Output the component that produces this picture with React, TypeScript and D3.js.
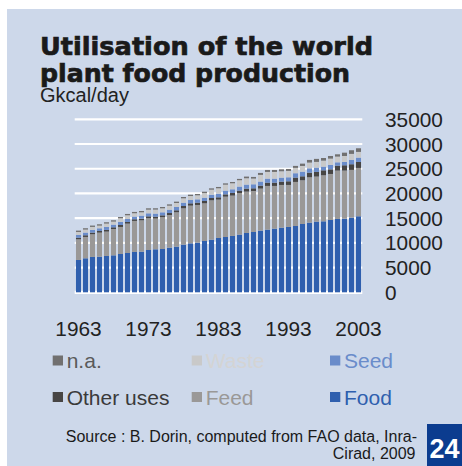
import { scaleBand, scaleLinear, stack } from "d3";

const years = Array.from({ length: 41 }, (_, i) => 1963 + i);

const food = [
  6540, 6880, 7150, 7210, 7350, 7480, 7750, 7950, 8160, 8220,
  8560, 8700, 8760, 9030, 9240, 9640, 9910, 10050, 10380, 10650,
  10990, 11190, 11400, 11670, 12000, 12200, 12480, 12680, 12880, 13080,
  13220, 13420, 13820, 14090, 14300, 14360, 14630, 14840, 14900, 15110,
  15380,
];
const feed = [
  4180, 4320, 4590, 4860, 4930, 5330, 5470, 5940, 6280, 6340,
  6410, 6210, 6410, 6610, 6950, 7350, 7620, 7620, 7620, 7960,
  7760, 8160, 8160, 8370, 8370, 8300, 8500, 8840, 8640, 8640,
  8500, 8910, 8840, 9180, 9110, 9310, 9310, 9780, 9720, 9650,
  9780,
];
const otherUses = [
  340, 340, 340, 340, 340, 340, 400, 340, 340, 340,
  400, 400, 400, 400, 400, 470, 470, 470, 470, 470,
  470, 470, 540, 540, 610, 540, 610, 670, 670, 670,
  740, 880, 810, 940, 940, 1010, 940, 1010, 1080, 1150,
  1210,
];
const seed = [
  540, 540, 540, 540, 610, 540, 610, 610, 540, 610,
  610, 610, 610, 670, 670, 670, 670, 670, 670, 670,
  740, 740, 740, 810, 810, 810, 810, 810, 810, 810,
  810, 880, 940, 880, 880, 740, 880, 670, 670, 880,
  880,
];
const waste = [
  610, 610, 610, 540, 670, 610, 740, 740, 670, 670,
  740, 810, 810, 810, 810, 880, 810, 810, 940, 1010,
  1080, 1210, 1210, 1280, 1280, 1150, 1350, 1350, 1350, 1280,
  1280, 1080, 1150, 1150, 1150, 1210, 1280, 1150, 1210, 1210,
  1150,
];
const na = [
  270, 270, 270, 270, 270, 270, 270, 270, 270, 270,
  270, 270, 270, 270, 270, 270, 270, 270, 270, 270,
  270, 270, 270, 270, 340, 340, 400, 400, 400, 400,
  400, 400, 470, 540, 610, 540, 540, 470, 670, 740,
  740,
];

const yTicks = [0, 5000, 10000, 15000, 20000, 25000, 30000, 35000];
const xTickYears = [1963, 1973, 1983, 1993, 2003];

const series = [
  { key: "food", label: "Food", values: food, color: "#2f5fae", text: "#2f5fae" },
  { key: "feed", label: "Feed", values: feed, color: "#9a9897", text: "#9a9897" },
  { key: "other", label: "Other uses", values: otherUses, color: "#474544", text: "#3a3a3a" },
  { key: "seed", label: "Seed", values: seed, color: "#6a8cca", text: "#6a8cca" },
  { key: "waste", label: "Waste", values: waste, color: "#c9c9c9", text: "#d4d4d4" },
  { key: "na", label: "n.a.", values: na, color: "#717070", text: "#5a5a5a" },
];

// legend grid: [series key, column, row]
const legendLayout: [string, number, number][] = [
  ["na", 0, 0], ["waste", 1, 0], ["seed", 2, 0],
  ["other", 0, 1], ["feed", 1, 1], ["food", 2, 1],
];

const W = 462;
const H = 466;
const BG = "#cdd8ea";
const FONT = "'Liberation Sans', Arial, sans-serif";

export default function App() {
  const rows = years.map((yr, i) => {
    const r: Record<string, number> = { year: yr };
    series.forEach((s) => (r[s.key] = s.values[i]));
    return r;
  });
  const stacked = stack<Record<string, number>>().keys(series.map((s) => s.key))(rows);

  const x = scaleBand<number>()
    .domain(years)
    .range([75, 362])
    .paddingInner(0.28)
    .paddingOuter(0.14);
  const y = scaleLinear().domain([0, 35000]).range([292.3, 119.3]);

  const legendCols = [52.7, 191.7, 330];
  const legendRows = [360.5, 397];

  return (
    <svg
      width={W}
      height={H}
      style={{ position: "absolute", left: 0, top: 0, display: "block" }}
      fontFamily={FONT}
    >
      <rect x={0} y={0} width={W} height={H} fill="#fff" />
      <rect x={7} y={9} width={W - 7} height={H - 9} fill={BG} />

      {/* Title */}
      <g fontFamily="'DejaVu Sans', sans-serif" fontWeight={700} fill="#1a1a1a" stroke="#1a1a1a" strokeWidth={0.7}>
        <text x={40} y={55} fontSize={25} textLength={333} lengthAdjust="spacingAndGlyphs">
          Utilisation of the world
        </text>
        <text x={40} y={81.5} fontSize={25} textLength={310} lengthAdjust="spacingAndGlyphs">
          plant food production
        </text>
      </g>
      <text x={40} y={101.5} fontSize={20} fill="#222">Gkcal/day</text>

      {/* Gridlines */}
      {yTicks.map((t) => (
        <line
          key={t}
          x1={74.7}
          x2={362.3}
          y1={y(t)}
          y2={y(t)}
          stroke="#fff"
          strokeWidth={t === 0 ? 3.2 : 2.2}
        />
      ))}

      {/* Bars */}
      {stacked.map((layer, li) => (
        <g key={layer.key} fill={series[li].color}>
          {layer.map((d, i) => (
            <rect
              key={i}
              x={x(years[i])}
              y={y(d[1])}
              width={x.bandwidth()}
              height={y(d[0]) - y(d[1])}
            />
          ))}
        </g>
      ))}

      {/* Y axis labels */}
      {yTicks.map((t) => (
        <text key={t} x={385} y={y(t)} dy="0.36em" fontSize={20.8} fill="#222">
          {t}
        </text>
      ))}

      {/* X axis labels */}
      {xTickYears.map((yr) => (
        <text key={yr} x={(x(yr) ?? 0) + x.bandwidth() / 2} y={336} textAnchor="middle" fontSize={20.8} fill="#222">
          {yr}
        </text>
      ))}

      {/* Legend */}
      {legendLayout.map(([k, c, r]) => {
        const s = series.find((d) => d.key === k)!;
        return (
          <g key={k}>
            <rect x={legendCols[c]} y={legendRows[r] - 5} width={10.3} height={10} fill={s.color} />
            <text x={legendCols[c] + 14} y={legendRows[r]} dy="0.36em" fontSize={21} fill={s.text}>
              {s.label}
            </text>
          </g>
        );
      })}

      {/* Source */}
      <g fontSize={16} fill="#1a1a1a" textAnchor="end">
        <text x={417} y={441.5}>Source : B. Dorin, computed from FAO data, Inra-</text>
        <text x={415.5} y={459}>Cirad, 2009</text>
      </g>

      {/* Page number */}
      <rect x={427} y={424} width={W - 427} height={H - 424} fill="#0b3c8f" />
      <text x={444.5} y={457.5} textAnchor="middle" fontSize={27} fontWeight={700} fill="#fff">
        24
      </text>
    </svg>
  );
}
